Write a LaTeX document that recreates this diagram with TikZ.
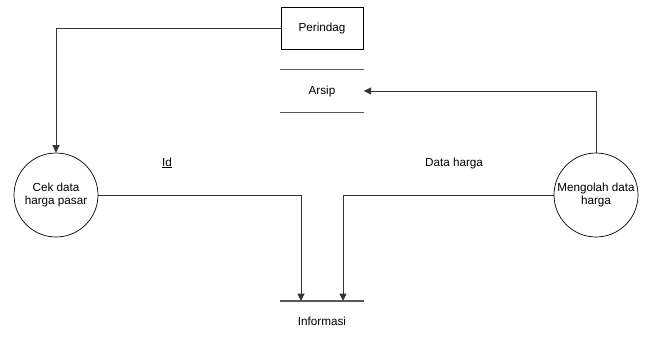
\documentclass[tikz,border=0pt]{standalone}
\usepackage{fontspec}
\setmainfont{Liberation Sans}
\usetikzlibrary{positioning, arrows.meta}

\begin{document}
\begin{tikzpicture}[
    x=1pt, y=-1pt,
    font=\fontsize{11.7}{13.5}\selectfont,
    entity/.style={draw=black, line width=0.7pt, minimum width=82pt, minimum height=42pt, inner sep=0pt},
    process/.style={draw=black, circle, line width=0.7pt, minimum size=84pt, inner sep=0pt, align=center},
    datastore/.style={minimum width=83pt, minimum height=42pt, inner sep=0pt},
    storeline/.style={draw=black!65, line width=1.1pt},
    flow/.style={draw=black!80, line width=1pt, -{Triangle[length=7.5pt, width=7pt]}}
]

% Canvas
\useasboundingbox (0,0) rectangle (648,340);

% External entity and processes
\node[entity] (perindag) at (322,28) {Perindag};
\node[process] (cek) at (56,195) {Cek data\\harga pasar};
\node[process] (olah) at (596,195) {Mengolah data\\harga};

% Data stores
\node[datastore] (arsip) at (322,91) {Arsip};
\draw[storeline] (arsip.north west) -- (arsip.north east);
\draw[storeline] (arsip.south west) -- (arsip.south east);

\node[datastore, minimum height=0pt] (infoline) at (322,301) {};
\draw[storeline] (infoline.west) -- (infoline.east);
\node (info) at (322,321) {Informasi};

% Flow labels
\node (lblid) at (167,163) {\underline{Id}};
\node (lbldata) at (454,163) {Data harga};

% Flows
\draw[flow] (perindag.west) -| (cek.north);
\draw[flow] (olah.north) |- (arsip.east);
\draw[flow] (cek.east) -| ([xshift=-21pt]infoline.center);
\draw[flow] (olah.west) -| ([xshift=21pt]infoline.center);

\end{tikzpicture}
\end{document}
